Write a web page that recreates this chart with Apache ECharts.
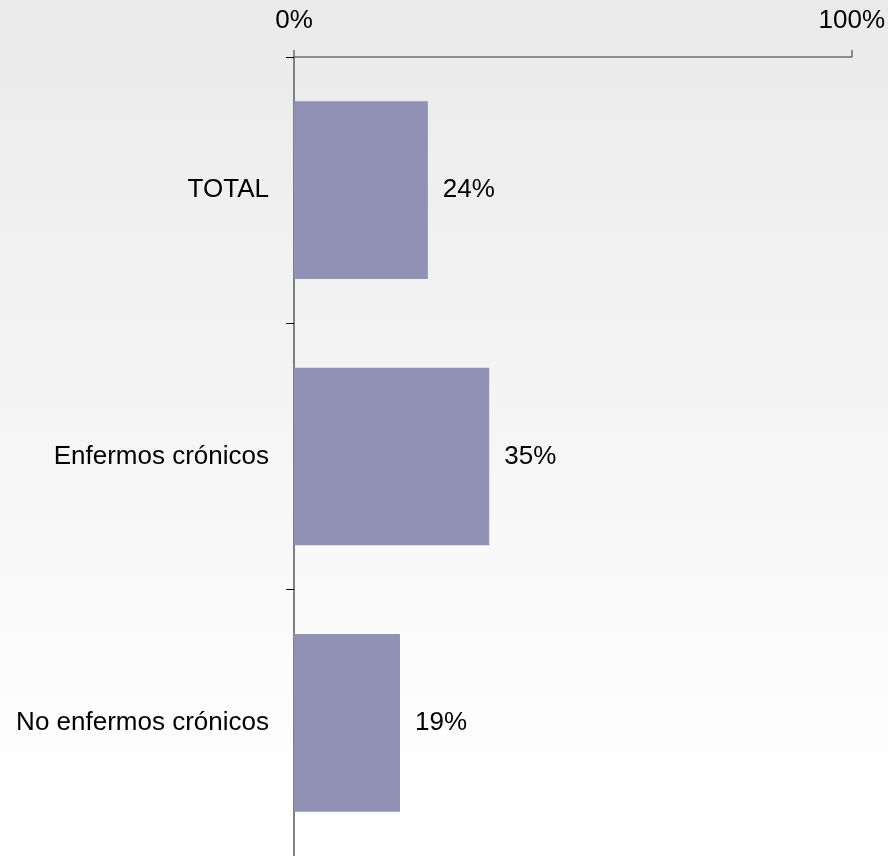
<!DOCTYPE html>
<html>
<head>
<meta charset="utf-8">
<script src="https://cdn.jsdelivr.net/npm/echarts@6/dist/echarts.min.js"></script>
<style>
html,body{margin:0;padding:0;overflow:hidden;}
#chart{width:888px;height:856px;}
</style>
</head>
<body>
<div id="chart"></div>
<script>
var categories = ['TOTAL', 'Enfermos crónicos', 'No enfermos crónicos'];
var values = [24, 35, 19];
var xTickLabels = ['0%', '100%'];

var chart = echarts.init(document.getElementById('chart'), null, {renderer: 'canvas', width: 888, height: 856});
var font = 'Arial, "Liberation Sans", sans-serif';
chart.setOption({
  animation: false,
  backgroundColor: {
    type: 'linear', x: 0, y: 0, x2: 0, y2: 1,
    colorStops: [
      {offset: 0, color: '#eaeaea'},
      {offset: 0.94, color: '#ffffff'},
      {offset: 1, color: '#ffffff'}
    ]
  },
  grid: {left: 294, top: 57, width: 561, height: 804, containLabel: false},
  xAxis: {
    type: 'value',
    position: 'top',
    min: 0, max: 100, interval: 100,
    splitLine: {show: false},
    axisLine: {show: true, lineStyle: {color: '#6e6e6e', width: 1.5}},
    axisTick: {show: true, inside: false, length: 7, lineStyle: {color: '#6e6e6e', width: 1.5}},
    axisLabel: {
      margin: 23,
      fontSize: 26, color: '#000', fontFamily: font,
      formatter: function (v) { return v === 0 ? xTickLabels[0] : (v === 100 ? xTickLabels[1] : ''); }
    }
  },
  yAxis: {
    type: 'category',
    data: categories,
    inverse: true,
    axisLine: {show: true, lineStyle: {color: '#808080', width: 2}},
    axisTick: {show: true, length: 8, lineStyle: {color: '#000', width: 1}},
    axisLabel: {margin: 25, fontSize: 26, color: '#000', fontFamily: font}
  },
  series: [{
    type: 'bar',
    data: values,
    barCategoryGap: '33.3%',
    itemStyle: {color: '#9191b5'},
    label: {
      show: true, position: 'right', distance: 15,
      fontSize: 26, color: '#000', fontFamily: font,
      formatter: function (p) { return p.value + '%'; }
    }
  }]
});
</script>
</body>
</html>
